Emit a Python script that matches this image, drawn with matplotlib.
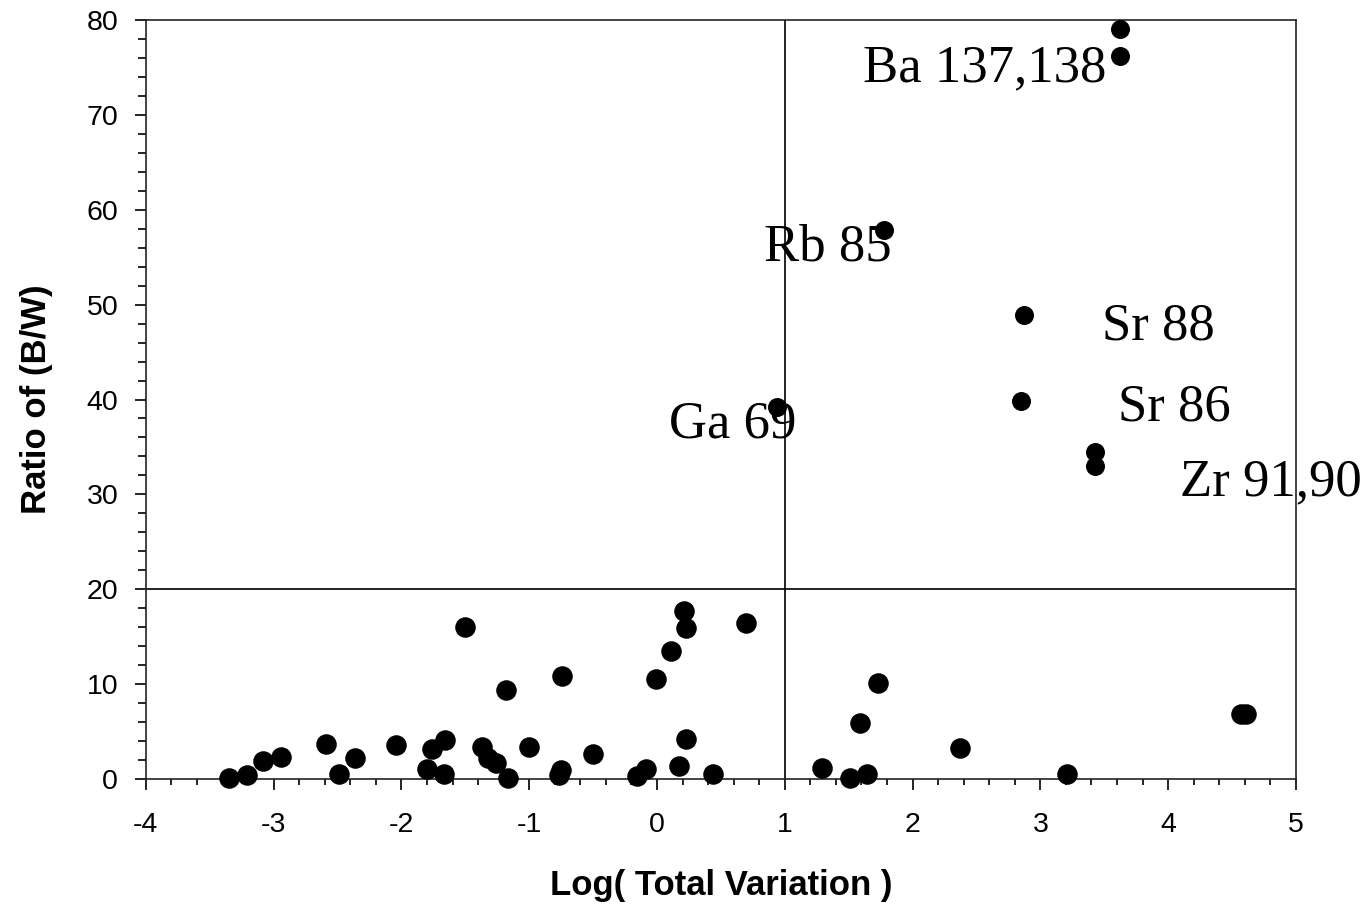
import numpy as np
import matplotlib
matplotlib.use("Agg")
import matplotlib.pyplot as plt
from matplotlib.ticker import MultipleLocator

plt.rcParams['font.family'] = ['Liberation Sans', 'DejaVu Sans']
plt.rcParams['axes.unicode_minus'] = False

# low ratio points (below the 20 line)
low_x = [-3.35, -3.21, -3.08, -2.94, -2.59, -2.49, -2.36, -2.04, -1.76, -1.66,
         -1.80, -1.67, -1.50, -1.37, -1.32, -1.26, -1.18, -1.17, -1.00, -0.745,
         -0.75, -0.77, -0.50, -0.16, -0.09, -0.01, 0.11, 0.21, 0.225, 0.23,
         0.17, 0.44, 0.70, 1.29, 1.51, 1.64, 1.59, 1.73, 2.37, 3.21,
         4.57, 4.61]
low_y = [0.1, 0.4, 1.9, 2.3, 3.7, 0.5, 2.2, 3.6, 3.2, 4.1,
         1.05, 0.5, 16.0, 3.4, 2.2, 1.7, 9.4, 0.1, 3.4, 10.85,
         0.95, 0.4, 2.6, 0.3, 1.05, 10.5, 13.5, 17.7, 15.9, 4.2,
         1.4, 0.5, 16.4, 1.2, 0.1, 0.5, 5.9, 10.1, 3.3, 0.5,
         6.85, 6.85]

# high ratio points (labelled isotopes)
high_x = [3.62, 3.62, 1.775, 2.87, 2.85, 0.94, 3.43, 3.43]
high_y = [79.1, 76.2, 57.85, 48.9, 39.8, 39.2, 34.5, 33.0]

labels = ["Ba 137,138", "Rb 85", "Sr 88", "Sr 86", "Zr 91,90", "Ga 69"]
label_x = [1.61, 0.84, 3.48, 3.61, 4.09, 0.09]
label_y = [73.5, 54.6, 46.3, 37.8, 29.9, 36.0]

fig = plt.figure(figsize=(13.69, 9.08), dpi=100)
ax = fig.add_axes([0.1066, 0.142, 0.84, 0.836])

ax.scatter(low_x, low_y, s=190, color='black', zorder=3, clip_on=False)
ax.scatter(high_x, high_y, s=160, color='black', zorder=3, clip_on=False)

ax.axvline(1, color='black', lw=1.2, zorder=2)
ax.axhline(20, color='black', lw=1.2, zorder=2)

for t, x, y in zip(labels, label_x, label_y):
    ax.text(x, y, t, fontsize=38, family=['Liberation Serif'], ha='left',
            va='baseline', zorder=4, clip_on=False)

ax.set_xlim(-4, 5)
ax.set_ylim(0, 80)
ax.xaxis.set_major_locator(MultipleLocator(1))
ax.xaxis.set_minor_locator(MultipleLocator(0.2))
ax.yaxis.set_major_locator(MultipleLocator(10))
ax.yaxis.set_minor_locator(MultipleLocator(2))
ax.tick_params(which='major', direction='out', length=8, width=1.2, labelsize=20.5)
ax.tick_params(axis='x', which='major', pad=16)
ax.tick_params(axis='y', which='major', pad=12)
ax.tick_params(axis='x', which='minor', direction='out', length=4.5, width=1.2)
ax.tick_params(axis='y', which='minor', direction='out', length=6, width=1.2)
ax.tick_params(top=False, right=False)

for sp in ax.spines.values():
    sp.set_linewidth(1.2)
    sp.set_color('#222222')

ax.set_xlabel("Log( Total Variation )", fontsize=25, fontweight='bold', labelpad=22)
ax.set_ylabel("Ratio of (B/W)", fontsize=25, fontweight='bold', labelpad=24)

fig.savefig("out.png", dpi=100)
